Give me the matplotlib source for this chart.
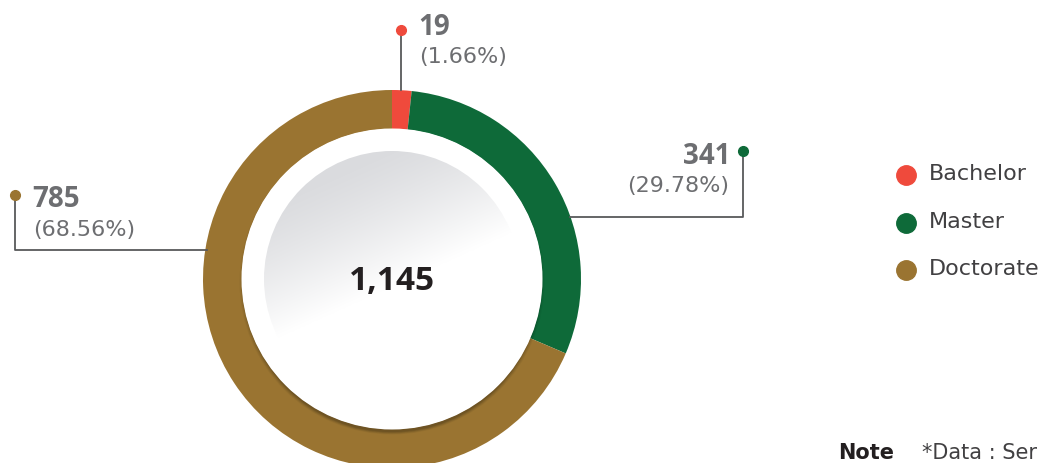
import numpy as np
import matplotlib.pyplot as plt
from matplotlib.patches import Circle

# data
categories = ["Bachelor", "Master", "Doctorate"]
counts = [19, 341, 785]
shares = ["1.66%", "29.78%", "68.56%"]
total_label = "1,145"
colors = ["#ef4a3c", "#0e6a39", "#9a7431"]

TEXT_GRAY = "#6d6e71"
LINE_GRAY = "#58595b"
W, H = 1049, 463
CX, CY = 392, H - 279
R_OUT, RING = 189, 39

plt.rcParams["font.family"] = ["DejaVu Sans"]
NUM_FONT = ["Open Sans", "DejaVu Sans"]

fig = plt.figure(figsize=(W / 100, H / 100), dpi=100)
ax = fig.add_axes([0, 0, 1, 1])


def py(y):
    # pixel row from top -> data y
    return H - y


ax.pie(counts, colors=colors, startangle=90, counterclock=False,
       center=(CX, CY), radius=R_OUT, frame=True,
       wedgeprops=dict(width=RING, linewidth=0))

# soft shadow of the inner white disc
for i, a in enumerate([0.04, 0.05, 0.06, 0.07, 0.08]):
    ax.add_patch(Circle((CX, CY - 3 - i * 0.6), 152.5 - i * 1.2,
                        color="black", alpha=a, lw=0, zorder=3))
ax.add_patch(Circle((CX, CY), 150.5, color="white", lw=0, zorder=4))

# gradient inner disc: gray upper-left fading to white past the centre
n = 300
xx, yy = np.meshgrid(np.linspace(-1, 1, n), np.linspace(1, -1, n))
s = 0.41 * xx - 0.91 * yy
t = np.clip((s + 0.95) / 1.0, 0, 1) ** 1.3
g0, g1 = np.array([0.855, 0.859, 0.871]), np.array([1.0, 1.0, 1.0])
img = g0[None, None, :] * (1 - t[..., None]) + g1[None, None, :] * t[..., None]
inner = Circle((CX, CY), 128, transform=ax.transData, lw=0, fc="none")
ax.add_patch(inner)
im = ax.imshow(img, extent=(CX - 128, CX + 128, CY - 128, CY + 128),
               zorder=5, interpolation="bilinear")
im.set_clip_path(inner)

ax.text(CX, py(281), total_label, ha="center", va="center", family=NUM_FONT,
        fontsize=24, fontweight="bold", color="#231f20", zorder=6)

# callouts
# Bachelor
ax.plot([401, 401], [py(30), py(90)], color=LINE_GRAY, lw=1.3, zorder=2)
ax.plot(401, py(30), "o", ms=7, color=colors[0], zorder=3)
ax.text(418, py(35), str(counts[0]), fontsize=20, fontweight="bold",
        family=NUM_FONT, color=TEXT_GRAY, ha="left", va="baseline")
ax.text(419, py(63), f"({shares[0]})", fontsize=16,
        color=TEXT_GRAY, ha="left", va="baseline")

# Master
ax.plot([743, 743, 570], [py(151), py(217), py(217)], color=LINE_GRAY,
        lw=1.3, zorder=2)
ax.plot(743, py(151), "o", ms=7, color=colors[1], zorder=3)
ax.text(730, py(164), str(counts[1]), fontsize=20, fontweight="bold",
        family=NUM_FONT, color=TEXT_GRAY, ha="right", va="baseline")
ax.text(729, py(192), f"({shares[1]})", fontsize=16,
        color=TEXT_GRAY, ha="right", va="baseline")

# Doctorate
ax.plot([15, 15, 207], [py(195), py(250), py(250)], color=LINE_GRAY,
        lw=1.3, zorder=2)
ax.plot(15, py(195), "o", ms=7, color=colors[2], zorder=3)
ax.text(32, py(207), str(counts[2]), fontsize=20, fontweight="bold",
        family=NUM_FONT, color=TEXT_GRAY, ha="left", va="baseline")
ax.text(33, py(236), f"({shares[2]})", fontsize=16,
        color=TEXT_GRAY, ha="left", va="baseline")

# legend
for i, (cat, col) in enumerate(zip(categories, colors)):
    y = py(175 + i * 47.5)
    ax.plot(906, y, "o", ms=14, color=col)
    ax.text(929, y + 1, cat, fontsize=16, color="#414042",
            ha="left", va="center")

ax.text(838, py(459), "Note", fontsize=15, fontweight="bold",
        color="#231f20", ha="left", va="baseline")
ax.text(922, py(459), "*Data : Ser", fontsize=15, color="#414042",
        ha="left", va="baseline")

ax.set_xlim(0, W)
ax.set_ylim(0, H)
ax.set_aspect("equal")
ax.axis("off")

fig.savefig("out.png", dpi=100)
